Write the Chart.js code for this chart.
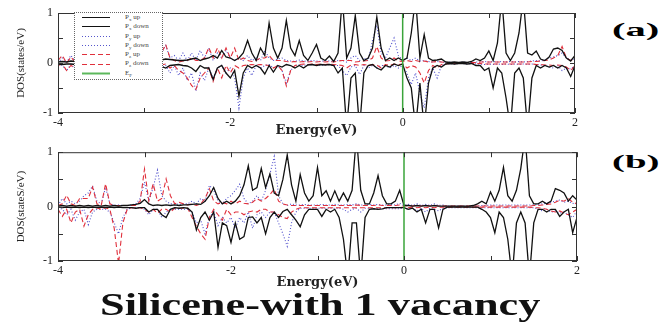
<!DOCTYPE html>
<html>
<head>
<meta charset="utf-8">
<script src="https://cdn.jsdelivr.net/npm/chart.js@4.4.1/dist/chart.umd.min.js"></script>
<style>
  body { margin: 0; background: #fff; width: 664px; height: 324px; position: relative; overflow: hidden; font-family: "Liberation Serif", serif; }
  .panel { position: absolute; left: 0; width: 600px; }
  #pa { top: 0; height: 140px; }
  #pb { top: 140px; height: 150px; }
  .tag { position: absolute; left: 612px; font: bold 19px/19px "Liberation Serif"; transform-origin: left center; white-space: nowrap; }
  #tagA { top: 20px; }
  #tagB { top: 152px; }
  #title { position: absolute; left: 100px; top: 289px; font: bold 31px/31px "Liberation Serif"; transform-origin: left center; white-space: nowrap; color: #111; }
  #legend { position: absolute; left: 74px; top: 12px; width: 89px; height: 68px; background: #fff; border: 1px dotted #666; box-sizing: border-box; font: 7px "Liberation Serif"; color: #444; }
  #legend .row { height: 9.3px; display: flex; align-items: center; }
  #legend svg { margin-left: 7px; }
  #legend span { margin-left: 15px; white-space: nowrap; }
  #legend sub { font-size: 5px; }
</style>
</head>
<body>
<div class="panel" id="pa"><canvas id="chartA"></canvas></div>
<div class="panel" id="pb"><canvas id="chartB"></canvas></div>
<div id="legend">
  <div class="row"><svg width="28" height="5"><line x1="0" y1="2.5" x2="28" y2="2.5" stroke="#111" stroke-width="1"/></svg><span>P<sub>x</sub> up</span></div>
  <div class="row"><svg width="28" height="5"><line x1="0" y1="2.5" x2="28" y2="2.5" stroke="#111" stroke-width="1"/></svg><span>P<sub>x</sub> down</span></div>
  <div class="row"><svg width="28" height="5"><line x1="0" y1="2.5" x2="28" y2="2.5" stroke="#5555cc" stroke-width="1" stroke-dasharray="1 2"/></svg><span>P<sub>y</sub> up</span></div>
  <div class="row"><svg width="28" height="5"><line x1="0" y1="2.5" x2="28" y2="2.5" stroke="#5555cc" stroke-width="1" stroke-dasharray="1 2"/></svg><span>P<sub>y</sub> down</span></div>
  <div class="row"><svg width="28" height="5"><line x1="0" y1="2.5" x2="28" y2="2.5" stroke="#e0303c" stroke-width="1" stroke-dasharray="5 3"/></svg><span>P<sub>z</sub> up</span></div>
  <div class="row"><svg width="28" height="5"><line x1="0" y1="2.5" x2="28" y2="2.5" stroke="#e0303c" stroke-width="1" stroke-dasharray="5 3"/></svg><span>P<sub>z</sub> down</span></div>
  <div class="row"><svg width="28" height="5"><line x1="0" y1="2.5" x2="28" y2="2.5" stroke="#5cb85c" stroke-width="2"/></svg><span>E<sub>F</sub></span></div>
</div>
<div class="tag" id="tagA">(a)</div>
<div class="tag" id="tagB">(b)</div>
<div id="title">Silicene-with 1 vacancy</div>

<script>
// energy grid, step 0.05 eV from -4 to 2
const energy = Array.from({ length: 121 }, (_, i) => Math.round((-4 + i * 0.05) * 100) / 100);
const fermiX = [0, 0];
const fermiY = [-1, 1];

// panel (a)
const aPxUp = [
  0.02,0.03,0.02,0.04,0.03,0.02,0.03,0.02,0.02,0.03,0.02,0.03,0.02,0.02,0.03,0.02,0.02,0.03,0.04,0.05,
  0.04,0.05,0.06,0.05,0.06,0.08,0.07,0.06,0.05,0.05,0.06,0.08,0.1,0.05,0.08,0.1,0.15,0.1,0.25,0.12,
  0.1,0.05,0.1,0.2,0.45,0.2,0.05,0.3,0.15,0.8,0.3,0.1,0.3,0.85,0.3,0.15,0.45,0.15,0.05,0.2,
  0.37,0.1,0.05,0.14,0.03,0.2,1.3,0.1,0.3,0.95,0.2,0.05,0.1,0.3,0.92,0.3,0.05,0.1,0.05,0.1,
  0.05,0.1,0.6,1.3,0.1,0.57,0.1,0.05,0.06,0.08,0.02,0.01,0.02,0.01,0.02,0.01,0.03,0.08,0.05,0.1,
  0.24,0.05,0.4,1.3,0.2,0.05,0.2,0.6,1.3,0.2,0.16,0.24,0.08,0.05,0.12,0.28,0.3,0.25,0.1,0.04,
  0.15
];
const aPxDown = [
  -0.02,-0.03,-0.02,-0.02,-0.03,-0.02,-0.02,-0.03,-0.02,-0.02,-0.03,-0.02,-0.02,-0.02,-0.03,-0.02,-0.03,-0.02,-0.04,-0.05,
  -0.06,-0.05,-0.06,-0.08,-0.07,-0.1,-0.05,-0.04,-0.03,-0.05,-0.06,-0.1,-0.17,-0.05,-0.1,-0.1,-0.33,-0.1,-0.05,-0.2,
  -0.3,-0.15,-0.66,-0.2,-0.05,-0.1,-0.05,-0.1,-0.22,-0.05,-0.18,-0.05,-0.08,-0.03,-0.05,-0.1,-0.05,-0.1,-0.04,-0.03,
  -0.05,-0.03,-0.04,-0.03,-0.05,-0.2,-0.1,-1.3,-0.3,-0.2,-1.3,-0.2,-0.05,-0.03,-0.1,-0.14,-0.05,-0.08,-0.02,-0.05,
  -0.02,-0.3,-0.5,-1.3,-0.4,-1.3,-0.4,-0.1,-0.05,-0.08,-0.02,-0.01,-0.02,-0.01,-0.01,-0.02,-0.01,-0.05,-0.05,-0.15,
  -0.1,-0.5,-0.1,-0.2,-0.7,-1.3,-0.2,-0.1,-0.3,-1.3,-0.3,-0.05,-0.1,-0.05,-0.08,-0.05,-0.1,-0.05,-0.1,-0.27,
  -0.05
];
const aPyUp = [
  0.0,0.1,0.02,0.15,0.03,0.05,0.03,0.02,0.04,0.03,0.02,0.05,0.03,0.02,0.04,0.03,0.05,0.04,0.08,0.06,
  0.1,0.08,0.12,0.15,0.2,0.35,0.1,0.15,0.05,0.2,0.05,0.2,0.05,0.25,0.1,0.3,0.05,0.2,0.1,0.25,
  0.1,0.05,0.1,0.05,0.15,0.05,0.1,0.05,0.25,0.1,0.05,0.08,0.1,0.05,0.04,0.03,0.06,0.04,0.03,0.05,
  0.04,0.03,0.05,0.04,0.03,0.05,0.05,0.02,0.1,0.15,0.05,0.1,0.05,0.45,0.75,0.2,0.1,0.3,0.5,0.15,
  0.05,0.1,0.05,0.1,0.04,0.05,0.03,0.02,0.03,0.02,0.01,0.02,0.01,0.01,0.02,0.01,0.01,0.02,0.02,0.03,
  0.02,0.03,0.02,0.03,0.02,0.03,0.02,0.03,0.02,0.03,0.04,0.05,0.04,0.06,0.1,0.12,0.15,0.2,0.1,0.06,
  0.08
];
const aPyDown = [
  -0.02,-0.05,-0.15,-0.03,-0.12,-0.04,-0.03,-0.05,-0.02,-0.04,-0.03,-0.05,-0.02,-0.04,-0.03,-0.05,-0.04,-0.06,-0.05,-0.08,
  -0.06,-0.1,-0.08,-0.12,-0.1,-0.05,-0.2,-0.05,-0.25,-0.1,-0.35,-0.2,-0.56,-0.2,-0.35,-0.1,-0.3,-0.1,-0.05,-0.2,
  -0.1,-0.3,-0.9,-0.3,-0.1,-0.25,-0.05,-0.1,-0.05,-0.03,-0.1,-0.05,-0.15,-0.4,-0.15,-0.05,-0.04,-0.05,-0.03,-0.04,
  -0.03,-0.05,-0.04,-0.03,-0.05,-0.05,-0.15,-0.25,-0.08,-0.05,-0.23,-0.05,-0.1,-0.05,-0.1,-0.05,-0.05,-0.1,-0.05,-0.1,
  -0.05,-0.2,-0.43,-0.2,-0.6,-0.9,-0.3,-0.1,-0.3,-0.05,-0.02,-0.01,-0.02,-0.01,-0.01,-0.02,-0.01,-0.02,-0.02,-0.03,
  -0.02,-0.03,-0.02,-0.03,-0.02,-0.03,-0.02,-0.03,-0.02,-0.03,-0.02,-0.03,-0.04,-0.05,-0.08,-0.1,-0.05,-0.15,-0.1,-0.12,
  -0.05
];
const aPzUp = [
  0.05,0.15,0.0,0.12,0.02,0.04,0.03,0.05,0.02,0.04,0.03,0.05,0.02,0.04,0.03,0.05,0.04,0.05,0.08,0.1,
  0.08,0.1,0.12,0.15,0.2,0.37,0.1,0.05,0.02,0.04,0.05,0.1,0.05,0.05,0.1,0.31,0.1,0.3,0.1,0.3,
  0.1,0.3,0.05,0.1,0.05,0.03,0.05,0.1,0.1,0.15,0.05,0.05,0.05,0.03,0.02,0.03,0.02,0.03,0.02,0.03,
  0.02,0.03,0.02,0.03,0.02,0.04,0.05,0.05,0.05,0.02,0.03,0.04,0.05,0.1,0.33,0.1,0.04,0.05,0.1,0.04,
  0.03,0.05,0.03,0.05,0.03,0.04,0.02,0.02,0.03,0.02,0.01,0.01,0.01,0.01,0.01,0.01,0.01,0.01,0.02,0.02,
  0.02,0.02,0.02,0.02,0.02,0.02,0.02,0.02,0.02,0.02,0.03,0.03,0.04,0.05,0.06,0.1,0.15,0.33,0.1,0.05,
  0.1
];
const aPzDown = [
  -0.05,-0.02,-0.15,-0.05,-0.1,-0.03,-0.04,-0.02,-0.03,-0.04,-0.02,-0.03,-0.04,-0.02,-0.03,-0.05,-0.04,-0.05,-0.04,-0.06,
  -0.05,-0.08,-0.06,-0.05,-0.04,-0.02,-0.1,-0.05,-0.15,-0.2,-0.3,-0.45,-0.53,-0.3,-0.2,-0.1,-0.37,-0.1,-0.3,-0.05,
  -0.2,-0.05,-0.1,-0.05,-0.04,-0.03,-0.04,-0.03,-0.04,-0.05,-0.1,-0.05,-0.15,-0.46,-0.15,-0.05,-0.03,-0.02,-0.03,-0.02,
  -0.03,-0.02,-0.03,-0.02,-0.03,-0.04,-0.05,-0.1,-0.04,-0.03,-0.05,-0.03,-0.05,-0.03,-0.04,-0.1,-0.03,-0.05,-0.02,-0.03,
  -0.02,-0.1,-0.05,-0.08,-0.2,-0.4,-0.15,-0.05,-0.1,-0.03,-0.02,-0.01,-0.01,-0.01,-0.01,-0.01,-0.01,-0.01,-0.01,-0.02,
  -0.02,-0.02,-0.02,-0.02,-0.02,-0.02,-0.02,-0.02,-0.02,-0.02,-0.02,-0.03,-0.03,-0.04,-0.04,-0.05,-0.04,-0.05,-0.08,-0.15,
  -0.05
];

// panel (b)
const bPxUp = [
  0.01,0.02,0.01,0.02,0.01,0.02,0.01,0.02,0.01,0.02,0.01,0.02,0.01,0.02,0.01,0.02,0.02,0.03,0.04,0.06,
  0.13,0.05,0.02,0.03,0.02,0.03,0.02,0.03,0.02,0.03,0.03,0.04,0.05,0.04,0.1,0.2,0.35,0.15,0.05,0.1,
  0.05,0.1,0.2,0.4,0.75,0.3,0.35,0.7,0.35,0.6,0.25,0.2,0.5,0.95,0.4,0.1,0.59,0.25,0.1,0.2,
  0.72,0.2,0.29,0.1,0.29,0.1,0.25,0.1,0.3,1.3,0.3,0.05,0.05,0.25,0.57,0.2,0.05,0.05,0.1,0.3,
  0.02,0.02,0.01,0.02,0.01,0.02,0.01,0.02,0.01,0.01,0.01,0.01,0.01,0.01,0.01,0.01,0.02,0.05,0.1,0.05,
  0.27,0.1,0.3,0.72,0.2,0.1,0.3,0.7,1.3,0.2,0.05,0.05,0.1,0.05,0.1,0.33,0.3,0.25,0.1,0.2,
  0.12
];
const bPxDown = [
  -0.01,-0.02,-0.01,-0.02,-0.01,-0.02,-0.01,-0.02,-0.01,-0.02,-0.01,-0.02,-0.01,-0.02,-0.01,-0.02,-0.02,-0.02,-0.03,-0.02,
  -0.02,-0.1,-0.05,-0.05,-0.15,-0.2,-0.05,-0.02,-0.03,-0.02,-0.03,-0.1,-0.43,-0.2,-0.1,-0.25,-0.1,-0.75,-0.3,-0.35,
  -0.66,-0.3,-0.6,-0.55,-0.2,-0.19,-0.3,-0.2,-0.5,-0.2,-0.1,-0.2,-0.09,-0.05,-0.15,-0.25,-0.37,-0.15,-0.05,-0.05,
  -0.05,-0.18,-0.05,-0.1,-0.05,-0.2,-0.6,-1.3,-0.3,-0.3,-1.3,-0.2,-0.05,-0.04,-0.05,-0.04,-0.02,-0.02,-0.02,-0.02,
  -0.02,-0.05,-0.03,-0.1,-0.05,-0.3,-0.05,-0.05,-0.39,-0.05,-0.01,-0.01,-0.01,-0.01,-0.01,-0.01,-0.01,-0.01,-0.05,-0.1,
  -0.2,-0.48,-0.1,-0.2,-0.6,-1.3,-0.3,-0.1,-0.3,-1.3,-0.3,-0.05,-0.05,-0.1,-0.05,-0.05,-0.18,-0.1,-0.05,-0.48,
  -0.2
];
const bPyUp = [
  0.02,0.15,0.05,0.1,0.05,0.1,0.2,0.25,0.38,0.1,0.05,0.35,0.05,0.02,0.03,0.02,0.02,0.03,0.05,0.15,
  0.45,0.1,0.35,0.67,0.2,0.1,0.05,0.05,0.04,0.05,0.05,0.1,0.05,0.15,0.1,0.39,0.3,0.1,0.05,0.15,
  0.2,0.3,0.41,0.15,0.05,0.1,0.2,0.1,0.3,0.6,0.92,0.2,0.05,0.02,0.05,0.03,0.03,0.04,0.03,0.03,
  0.03,0.04,0.03,0.03,0.04,0.03,0.03,0.04,0.03,0.05,0.03,0.03,0.04,0.03,0.04,0.03,0.03,0.04,0.03,0.06,
  0.02,0.04,0.02,0.05,0.02,0.04,0.02,0.05,0.02,0.03,0.01,0.01,0.01,0.01,0.01,0.01,0.01,0.01,0.02,0.02,
  0.03,0.03,0.03,0.03,0.03,0.03,0.03,0.03,0.03,0.03,0.03,0.04,0.05,0.06,0.08,0.1,0.12,0.08,0.1,0.06,
  0.05
];
const bPyDown = [
  -0.02,-0.05,-0.15,-0.05,-0.25,-0.1,-0.05,-0.33,-0.1,-0.05,-0.05,-0.05,-0.1,-0.3,-0.5,-0.2,-0.05,-0.02,-0.02,-0.02,
  -0.05,-0.15,-0.05,-0.05,-0.2,-0.1,-0.05,-0.05,-0.05,-0.05,-0.05,-0.1,-0.3,-0.25,-0.5,-0.2,-0.1,-0.35,-0.2,-0.3,
  -0.2,-0.4,-0.2,-0.3,-0.1,-0.4,-0.15,-0.1,-0.2,-0.1,-0.1,-0.3,-0.5,-0.73,-0.3,-0.1,-0.03,-0.03,-0.03,-0.03,
  -0.03,-0.03,-0.03,-0.03,-0.03,-0.03,-0.05,-0.1,-0.05,-0.03,-0.1,-0.03,-0.04,-0.04,-0.04,-0.04,-0.04,-0.04,-0.04,-0.04,
  -0.02,-0.05,-0.03,-0.08,-0.03,-0.1,-0.03,-0.05,-0.08,-0.03,-0.02,-0.02,-0.02,-0.02,-0.02,-0.02,-0.02,-0.02,-0.02,-0.02,
  -0.02,-0.02,-0.02,-0.02,-0.02,-0.02,-0.02,-0.02,-0.02,-0.02,-0.02,-0.05,-0.08,-0.05,-0.1,-0.08,-0.12,-0.1,-0.15,-0.2,
  -0.08
];
const bPzUp = [
  0.02,0.05,0.21,0.05,0.02,0.15,0.15,0.15,0.36,0.05,0.02,0.42,0.05,0.02,0.02,0.02,0.02,0.02,0.02,0.1,
  0.69,0.1,0.42,0.1,0.15,0.51,0.2,0.05,0.08,0.05,0.03,0.05,0.02,0.05,0.15,0.33,0.1,0.05,0.08,0.05,
  0.1,0.05,0.1,0.06,0.05,0.08,0.15,0.1,0.15,0.22,0.32,0.1,0.05,0.03,0.02,0.02,0.02,0.02,0.02,0.02,
  0.02,0.02,0.02,0.02,0.02,0.02,0.02,0.02,0.02,0.03,0.02,0.02,0.02,0.02,0.03,0.02,0.02,0.02,0.02,0.03,
  0.01,0.02,0.01,0.02,0.01,0.02,0.01,0.02,0.01,0.01,0.01,0.01,0.01,0.01,0.01,0.01,0.01,0.01,0.01,0.01,
  0.01,0.01,0.01,0.01,0.01,0.01,0.01,0.01,0.01,0.01,0.02,0.02,0.03,0.04,0.05,0.08,0.12,0.1,0.15,0.08,
  0.05
];
const bPzDown = [
  -0.05,-0.18,-0.05,-0.3,-0.1,-0.05,-0.36,-0.15,-0.05,-0.02,-0.05,-0.02,-0.05,-0.4,-1.05,-0.3,-0.05,-0.02,-0.02,-0.02,
  -0.05,-0.1,-0.05,-0.12,-0.05,-0.05,-0.1,-0.03,-0.03,-0.03,-0.03,-0.2,-0.36,-0.5,-0.6,-0.2,-0.05,-0.15,-0.25,-0.05,
  -0.15,-0.1,-0.1,-0.15,-0.1,-0.08,-0.1,-0.05,-0.05,-0.1,-0.1,-0.15,-0.2,-0.22,-0.1,-0.05,-0.02,-0.02,-0.02,-0.02,
  -0.02,-0.02,-0.02,-0.02,-0.02,-0.02,-0.02,-0.02,-0.02,-0.02,-0.02,-0.02,-0.02,-0.02,-0.02,-0.02,-0.02,-0.02,-0.02,-0.02,
  -0.01,-0.02,-0.01,-0.02,-0.01,-0.02,-0.01,-0.02,-0.01,-0.01,-0.01,-0.01,-0.01,-0.01,-0.01,-0.01,-0.01,-0.01,-0.01,-0.01,
  -0.01,-0.01,-0.01,-0.01,-0.01,-0.01,-0.01,-0.01,-0.01,-0.01,-0.02,-0.02,-0.03,-0.05,-0.08,-0.1,-0.08,-0.12,-0.15,-0.1,
  -0.05
];

Chart.defaults.font.family = "Liberation Serif";
Chart.defaults.color = "#222";

const pts = (vals) => vals.map((v, i) => ({ x: energy[i], y: v }));

// box round the plot + inward tick marks on all four sides
const frame = {
  id: "frame",
  afterDatasetsDraw(chart) {
    const { ctx, chartArea: a, scales: { x, y } } = chart;
    ctx.save();
    ctx.strokeStyle = "#333";
    ctx.lineWidth = 1;
    ctx.strokeRect(a.left + 0.5, a.top + 0.5, a.width - 1, a.height - 1);
    ctx.beginPath();
    x.ticks.forEach((t) => {
      const px = Math.round(x.getPixelForValue(t.value)) + 0.5;
      ctx.moveTo(px, a.top); ctx.lineTo(px, a.top + 5);
      ctx.moveTo(px, a.bottom); ctx.lineTo(px, a.bottom - 5);
    });
    y.ticks.forEach((t) => {
      const py = Math.round(y.getPixelForValue(t.value)) + 0.5;
      ctx.moveTo(a.left, py); ctx.lineTo(a.left + 5, py);
      ctx.moveTo(a.right, py); ctx.lineTo(a.right - 5, py);
    });
    ctx.stroke();
    ctx.restore();
  },
};

function makePanel(el, s, yTitle, pad, xHeight, titlePad) {
  const black = { borderColor: "#111", borderWidth: 1.3 };
  const blue = { borderColor: "#4f4fcc", borderWidth: 1.1, borderDash: [1, 2] };
  const red = { borderColor: "#e0303c", borderWidth: 1.1, borderDash: [5, 3] };
  return new Chart(el, {
    type: "line",
    data: {
      datasets: [
        { label: "EF", data: fermiX.map((v, i) => ({ x: v, y: fermiY[i] })), borderColor: "#3aa43a", borderWidth: 1.5 },
        { label: "Px up", data: pts(s[0]), ...black },
        { label: "Px down", data: pts(s[1]), ...black },
        { label: "Pz up", data: pts(s[4]), ...red },
        { label: "Pz down", data: pts(s[5]), ...red },
        { label: "Py up", data: pts(s[2]), ...blue },
        { label: "Py down", data: pts(s[3]), ...blue },
      ],
    },
    options: {
      animation: false,
      responsive: true,
      maintainAspectRatio: false,
      layout: { padding: pad },
      elements: { point: { radius: 0 }, line: { tension: 0 } },
      plugins: { legend: { display: false }, tooltip: { enabled: false } },
      scales: {
        x: {
          type: "linear",
          min: -4,
          max: 2,
          grid: { display: false, drawTicks: false },
          border: { display: false },
          ticks: {
            stepSize: 1,
            autoSkip: false,
            maxRotation: 0,
            padding: 3,
            font: { size: 12 },
            callback: (v) => (v % 2 === 0 ? v : ""),
          },
          title: {
            display: true,
            text: "Energy(eV)",
            font: { family: "DejaVu Serif", size: 13, weight: "bold" },
            padding: { top: 0, bottom: titlePad },
          },
          afterFit: (sc) => { sc.height = xHeight; },
        },
        y: {
          min: -1,
          max: 1,
          grid: { display: false, drawTicks: false },
          border: { display: false },
          ticks: {
            stepSize: 0.5,
            padding: 5,
            font: { size: 12 },
            callback: (v) => (Number.isInteger(v) ? v : ""),
          },
          title: {
            display: true,
            text: yTitle,
            font: { size: 11 },
            padding: { top: 15, bottom: 0 },
          },
          afterFit: (sc) => { sc.width = 58; },
        },
      },
    },
    plugins: [frame],
  });
}

makePanel(document.getElementById("chartA"),
  [aPxUp, aPxDown, aPyUp, aPyDown, aPzUp, aPzDown],
  "DOS(states/eV)", { top: 13, right: 25, bottom: 0, left: 0 }, 27, 2);

makePanel(document.getElementById("chartB"),
  [bPxUp, bPxDown, bPyUp, bPyDown, bPzUp, bPzDown],
  "DOS(stateS/eV)", { top: 10, right: 23, bottom: 0, left: 0 }, 29, 0);

// stretch the big texts to the widths they have in the picture
function stretch(id, w) {
  const el = document.getElementById(id);
  el.style.transform = "scaleX(" + (w / el.offsetWidth) + ")";
}
stretch("title", 440);
stretch("tagA", 47);
stretch("tagB", 47);
</script>
</body>
</html>
